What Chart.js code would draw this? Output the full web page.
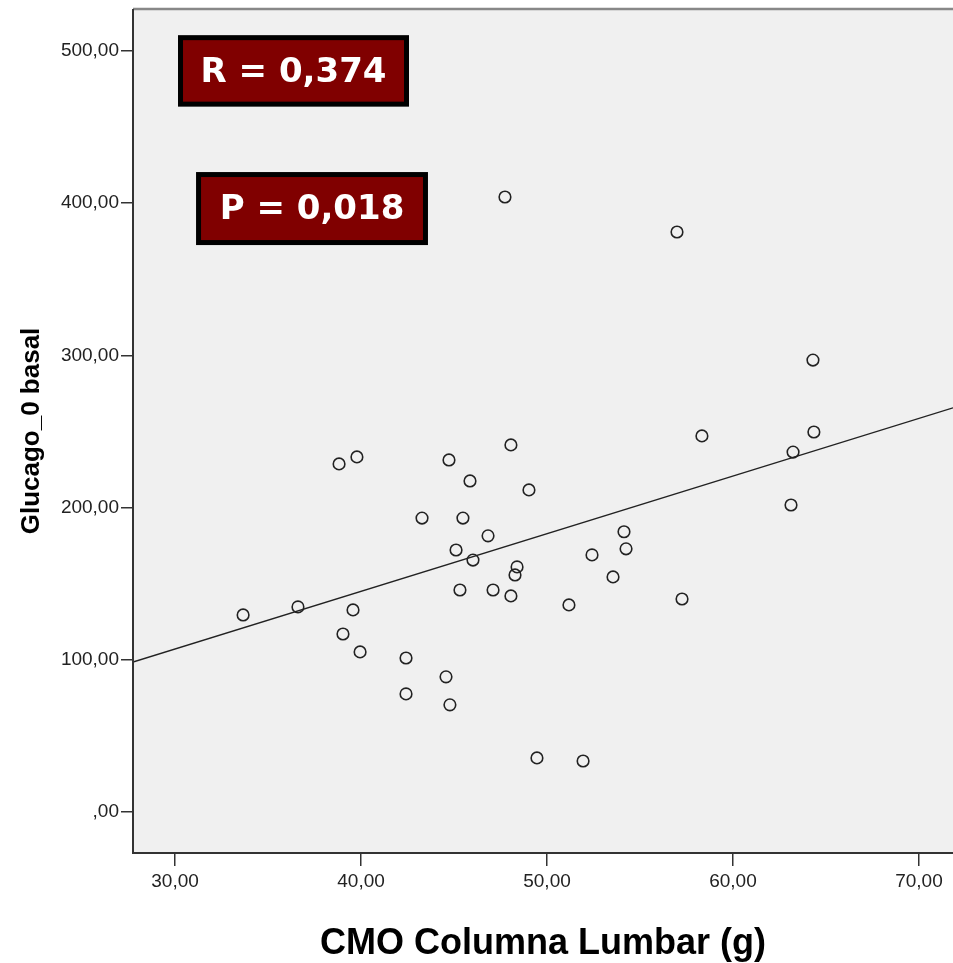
<!DOCTYPE html>
<html>
<head>
<meta charset="utf-8">
<script src="https://cdn.jsdelivr.net/npm/chart.js@4.4.1/dist/chart.umd.min.js"></script>
<style>
  html, body { margin: 0; padding: 0; background: #ffffff; overflow: hidden; }
  canvas { display: block; }
</style>
</head>
<body>
<canvas id="myChart" width="953" height="963"></canvas>
<script>
// Datos (CMO columna lumbar vs glucagon basal)
const cmoLumbar = [33.66, 36.61, 38.82, 39.78, 39.57, 39.03, 39.95, 42.42, 42.42, 43.28,
                   44.73, 44.57, 44.78, 45.11, 45.48, 45.32, 45.86, 46.02, 46.83, 47.10,
                   47.74, 48.06, 48.06, 48.28, 48.39, 49.03, 49.46, 51.18, 51.94, 52.42,
                   53.55, 54.14, 54.25, 56.99, 57.26, 58.33, 63.12, 63.23, 64.30, 64.35];
const glucagonBasal = [129.3, 134.6, 228.6, 233.2, 132.6, 116.8, 105.0, 101.0, 77.4, 193.0,
                       231.2, 88.6, 70.2, 172.0, 193.0, 145.7, 217.4, 165.4, 181.3, 145.7,
                       404.1, 241.1, 141.8, 155.6, 160.9, 211.5, 35.3, 135.9, 33.3, 168.8,
                       154.3, 184.0, 172.8, 381.1, 139.8, 247.0, 201.6, 236.4, 296.9, 249.6];

// Recta de ajuste (extremos)
const fitX = [27.74, 71.83];
const fitY = [98.4, 265.5];

// Marcas de los ejes
const xTicks = [30, 40, 50, 60, 70];
const yTicks = [0, 100, 200, 300, 400, 500];

// Etiquetas de los recuadros
const statLabels = ['R = 0,374', 'P = 0,018'];

// Posicion de los recuadros en unidades de datos
const statBoxes = [
    { x0: 30.16, x1: 42.58, y0: 510.5, y1: 463.5 },
    { x0: 31.13, x1: 43.60, y0: 420.5, y1: 372.5 }
];

function fmt(v) {
    // formato espanol como en SPSS: ",00" para cero
    if (v === 0) return ',00';
    return v.toFixed(2).replace('.', ',');
}

const pointData = cmoLumbar.map((x, i) => ({ x: x, y: glucagonBasal[i] }));
const lineData = fitX.map((x, i) => ({ x: x, y: fitY[i] }));

// sin relleno extra de las etiquetas en los bordes
function noPad(scale) {
    scale.paddingTop = 0;
    scale.paddingBottom = 0;
    scale.paddingLeft = 0;
    scale.paddingRight = 0;
}

// Fondo y borde del area de dibujo
const plotArea = {
    id: 'plotArea',
    beforeDatasetsDraw(chart) {
        const { ctx, chartArea: a } = chart;
        ctx.save();
        ctx.fillStyle = '#f0f0f0';
        ctx.fillRect(a.left, a.top, a.right - a.left, a.bottom - a.top);
        ctx.restore();
    },
    afterDraw(chart) {
        const { ctx, chartArea: a } = chart;
        ctx.save();
        ctx.strokeStyle = '#888888';
        ctx.lineWidth = 2.5;
        ctx.beginPath();
        ctx.moveTo(a.left, a.top);
        ctx.lineTo(a.right, a.top);
        ctx.stroke();
        ctx.strokeStyle = '#333333';
        ctx.lineWidth = 2;
        ctx.beginPath();
        ctx.moveTo(a.left, a.top);
        ctx.lineTo(a.left, a.bottom);
        ctx.lineTo(a.right, a.bottom);
        ctx.stroke();
        ctx.restore();
    }
};

// Recuadros con R y P
const statPlugin = {
    id: 'statPlugin',
    afterDraw(chart) {
        const { ctx } = chart;
        const xs = chart.scales.x, ys = chart.scales.y;
        ctx.save();
        statBoxes.forEach((b, i) => {
            const l = xs.getPixelForValue(b.x0), r = xs.getPixelForValue(b.x1);
            const t = ys.getPixelForValue(b.y0), bt = ys.getPixelForValue(b.y1);
            ctx.fillStyle = '#000000';
            ctx.fillRect(l, t, r - l, bt - t);
            ctx.fillStyle = '#800000';
            ctx.fillRect(l + 5, t + 5, r - l - 10, bt - t - 10);
            ctx.fillStyle = '#ffffff';
            ctx.font = 'bold 34px "DejaVu Sans"';
            ctx.textAlign = 'center';
            ctx.textBaseline = 'middle';
            ctx.fillText(statLabels[i], (l + r) / 2, (t + bt) / 2 + 2);
        });
        ctx.restore();
    }
};

const ctx = document.getElementById('myChart').getContext('2d');
const scatterChart = new Chart(ctx, {
    type: 'scatter',
    data: {
        datasets: [{
            label: 'Glucago_0 basal',
            data: pointData,
            pointStyle: 'circle',
            pointRadius: 5.8,
            pointHoverRadius: 5.8,
            backgroundColor: 'rgba(0,0,0,0)',
            borderColor: '#222222',
            borderWidth: 1.6
        }, {
            type: 'line',
            label: 'Ajuste',
            data: lineData,
            borderColor: '#222222',
            borderWidth: 1.4,
            pointRadius: 0,
            fill: false
        }]
    },
    options: {
        responsive: false,
        animation: false,
        layout: { autoPadding: false, padding: { top: 9, right: 0, bottom: 0, left: 0 } },
        plugins: {
            legend: { display: false },
            tooltip: { enabled: false }
        },
        scales: {
            x: {
                type: 'linear',
                min: 27.74,
                max: 71.83,
                afterBuildTicks: (scale) => { scale.ticks = xTicks.map(v => ({ value: v })); },
                afterFit: (scale) => { scale.height = 110; noPad(scale); },
                grid: { drawOnChartArea: false, drawTicks: true, tickLength: 13, color: '#333333', lineWidth: 1.5 },
                border: { display: false },
                ticks: {
                    color: '#222222',
                    font: { family: '"Liberation Sans", Arial', size: 19 },
                    padding: 4,
                    maxRotation: 0,
                    callback: (v) => fmt(v)
                },
                title: {
                    display: true,
                    text: 'CMO Columna Lumbar (g)',
                    color: '#000000',
                    font: { family: '"Liberation Sans", Arial', size: 36, weight: 'bold' },
                    padding: { top: 0, bottom: -3 }
                }
            },
            y: {
                type: 'linear',
                min: -27.2,
                max: 527.7,
                afterBuildTicks: (scale) => { scale.ticks = yTicks.map(v => ({ value: v })); },
                afterFit: (scale) => { scale.width = 133; noPad(scale); },
                grid: { drawOnChartArea: false, drawTicks: true, tickLength: 12, color: '#333333', lineWidth: 1.5 },
                border: { display: false },
                ticks: {
                    color: '#222222',
                    font: { family: '"Liberation Sans", Arial', size: 19 },
                    padding: 2,
                    callback: (v) => fmt(v)
                },
                title: {
                    display: true,
                    text: 'Glucago_0 basal',
                    color: '#000000',
                    font: { family: '"Liberation Sans", Arial', size: 26, weight: 'bold' },
                    padding: { top: 16, bottom: 0 }
                }
            }
        }
    },
    plugins: [plotArea, statPlugin]
});
</script>
</body>
</html>
